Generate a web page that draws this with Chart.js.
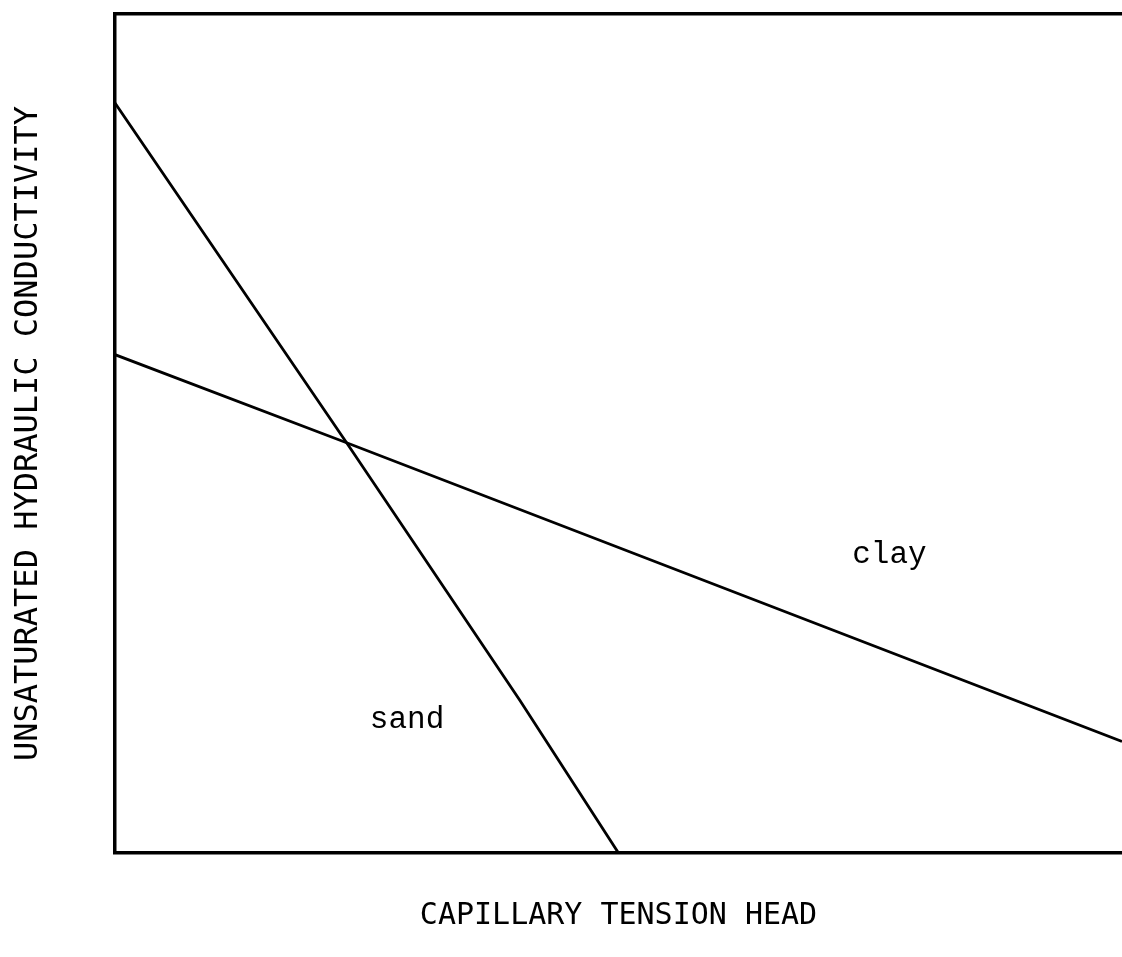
<!DOCTYPE html>
<html>
<head>
<meta charset="utf-8">
<script src="https://cdn.jsdelivr.net/npm/chart.js@4.4.1/dist/chart.umd.min.js"></script>
<style>
  html, body { margin: 0; padding: 0; background: #ffffff; }
  #wrap { width: 1122px; height: 957px; position: relative; }
</style>
</head>
<body>
<div id="wrap"><canvas id="c" width="1122" height="957"></canvas></div>
<script>
// ---- data (relative units) ----
const sandX = [0, 23.0, 40.2, 50.0];
const sandY = [89.4, 48.9, 18.2, 0];
const clayX = [0, 23.0, 100];
const clayY = [59.4, 48.9, 13.3];
const seriesNames = ['sand', 'clay'];
const labelX = [29.0, 76.9];
const labelY = [15.9, 35.5];
const xTitle = 'CAPILLARY TENSION HEAD';
const yTitle = 'UNSATURATED HYDRAULIC CONDUCTIVITY';

const toPts = (xs, ys) => xs.map((x, i) => ({ x: x, y: ys[i] }));

const curveLabels = {
  id: 'curveLabels',
  afterDatasetsDraw(chart) {
    const ctx = chart.ctx;
    const xs = chart.scales.x, ys = chart.scales.y;
    ctx.save();
    ctx.fillStyle = '#000';
    ctx.font = '31px "Liberation Mono", "DejaVu Sans Mono", monospace';
    ctx.textAlign = 'center';
    ctx.textBaseline = 'middle';
    seriesNames.forEach((n, i) => {
      ctx.fillText(n, xs.getPixelForValue(labelX[i]), ys.getPixelForValue(labelY[i]));
    });
    ctx.restore();
  }
};

new Chart(document.getElementById('c'), {
  type: 'line',
  data: {
    datasets: [
      { label: seriesNames[0], data: toPts(sandX, sandY), borderColor: '#000', borderWidth: 2.8, pointRadius: 0, tension: 0, fill: false },
      { label: seriesNames[1], data: toPts(clayX, clayY), borderColor: '#000', borderWidth: 2.8, pointRadius: 0, tension: 0, fill: false }
    ]
  },
  options: {
    responsive: false,
    animation: false,
    devicePixelRatio: 1,
    layout: { padding: { left: 0, right: 0, top: 14, bottom: 0 } },
    plugins: { legend: { display: false }, tooltip: { enabled: false } },
    scales: {
      x: {
        type: 'linear', min: 0, max: 100, position: 'bottom',
        grid: { display: false, drawTicks: false },
        border: { display: true, color: '#000', width: 3.5 },
        ticks: { display: false },
        title: {
          display: true, text: xTitle, color: '#000',
          font: { family: '"DejaVu Sans Mono", monospace', size: 30 },
          padding: { top: 0, bottom: 23 }
        },
        afterFit(s) { s.height = 104; }
      },
      xTop: {
        type: 'linear', min: 0, max: 100, position: 'top',
        grid: { display: false, drawTicks: false },
        border: { display: true, color: '#000', width: 3.5 },
        ticks: { display: false },
        afterFit(s) { s.height = 0; }
      },
      y: {
        type: 'linear', min: 0, max: 100,
        grid: { display: false, drawTicks: false },
        border: { display: true, color: '#000', width: 3.5 },
        ticks: { display: false },
        title: {
          display: true, text: yTitle, color: '#000',
          font: { family: '"DejaVu Sans Mono", monospace', size: 32 },
          padding: { top: 9, bottom: 0 }
        },
        afterFit(s) { s.width = 115; }
      }
    }
  },
  plugins: [curveLabels]
});
</script>
</body>
</html>
